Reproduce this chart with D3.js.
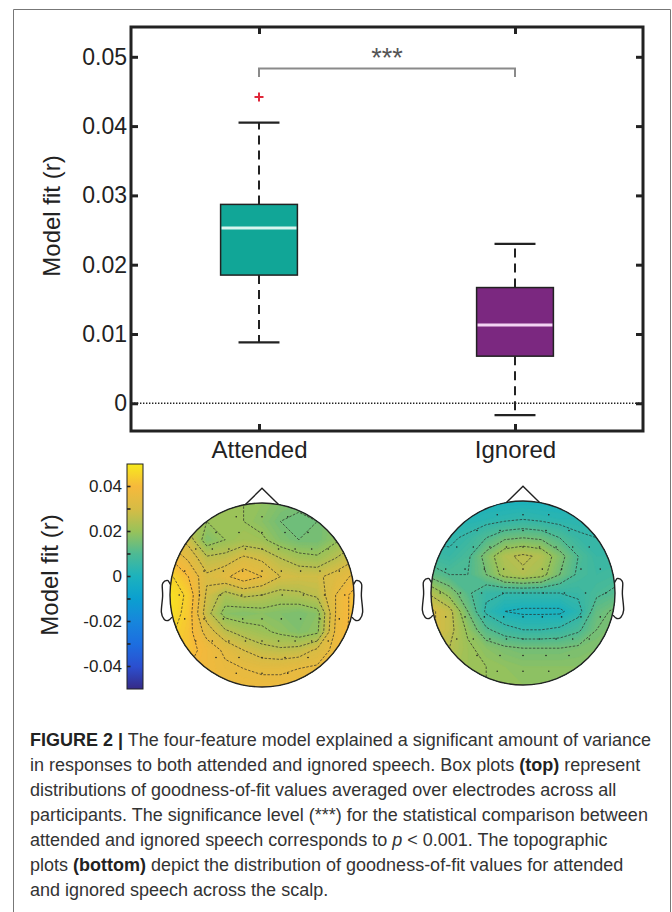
<!DOCTYPE html>
<head>
    <meta charset="utf-8">
    <title>Model fit</title>
    <script src="https://cdn.jsdelivr.net/npm/d3@7"></script>
    <style>
        body { margin: 0; background: #fff; }
        svg { display: block; font-family: "Liberation Sans", Arial, sans-serif; }
    </style>
</head>

<body>
    <div id="container"></div>
    <script>

        //-----------------------------DATA-----------------------------//
        var categories = ["Attended", "Ignored"];
        var whiskerLow = [0.0088, -0.0017];
        var quartile1 = [0.0185, 0.0068];
        var medians = [0.0253, 0.0113];
        var quartile3 = [0.0287, 0.0167];
        var whiskerHigh = [0.0405, 0.0230];
        var outliers = [[0.0442], []];
        var sigLevel = 0.0483, sigDrop = 0.0012, sigLabel = "***";
        var yTicks = [0, 0.01, 0.02, 0.03, 0.04, 0.05];
        var colorbarTicks = [-0.04, -0.02, 0, 0.02, 0.04];
        var colorbarMinor = [-0.04, -0.03, -0.02, -0.01, 0, 0.01, 0.02, 0.03, 0.04];

        // scalp maps, 11 x 11 samples, front row first, left column first
        var attendedTopo = [
            [0.021, 0.021, 0.020, 0.020, 0.020, 0.019, 0.017, 0.016, 0.017, 0.019, 0.021],
            [0.025, 0.023, 0.020, 0.020, 0.020, 0.018, 0.015, 0.014, 0.015, 0.018, 0.021],
            [0.033, 0.028, 0.017, 0.020, 0.022, 0.021, 0.017, 0.015, 0.015, 0.019, 0.023],
            [0.040, 0.034, 0.026, 0.027, 0.031, 0.029, 0.025, 0.022, 0.021, 0.025, 0.029],
            [0.046, 0.040, 0.031, 0.034, 0.038, 0.035, 0.030, 0.029, 0.029, 0.032, 0.036],
            [0.048, 0.044, 0.029, 0.023, 0.026, 0.025, 0.023, 0.024, 0.026, 0.035, 0.042],
            [0.048, 0.043, 0.027, 0.018, 0.017, 0.018, 0.017, 0.016, 0.018, 0.035, 0.042],
            [0.046, 0.042, 0.033, 0.026, 0.023, 0.021, 0.019, 0.017, 0.019, 0.036, 0.042],
            [0.044, 0.042, 0.038, 0.034, 0.030, 0.027, 0.026, 0.027, 0.031, 0.037, 0.040],
            [0.042, 0.040, 0.038, 0.036, 0.035, 0.034, 0.034, 0.035, 0.036, 0.038, 0.039],
            [0.040, 0.039, 0.038, 0.037, 0.037, 0.037, 0.037, 0.037, 0.037, 0.038, 0.039]
        ];
        var ignoredTopo = [
            [0.001, 0.001, 0.000, 0.000, 0.000, 0.000, 0.000, 0.000, 0.001, 0.001, 0.002],
            [0.003, 0.003, 0.002, 0.003, 0.004, 0.005, 0.004, 0.003, 0.003, 0.003, 0.004],
            [0.004, 0.004, 0.006, 0.010, 0.014, 0.015, 0.014, 0.010, 0.006, 0.005, 0.005],
            [0.007, 0.006, 0.009, 0.017, 0.024, 0.026, 0.024, 0.017, 0.010, 0.006, 0.006],
            [0.013, 0.010, 0.010, 0.015, 0.022, 0.024, 0.022, 0.015, 0.009, 0.007, 0.008],
            [0.024, 0.018, 0.011, 0.006, 0.005, 0.005, 0.005, 0.005, 0.006, 0.009, 0.011],
            [0.031, 0.027, 0.015, 0.004, 0.000, -0.001, -0.001, -0.001, 0.003, 0.013, 0.016],
            [0.031, 0.027, 0.019, 0.011, 0.007, 0.005, 0.005, 0.006, 0.009, 0.015, 0.017],
            [0.028, 0.025, 0.021, 0.018, 0.016, 0.015, 0.015, 0.015, 0.016, 0.017, 0.017],
            [0.025, 0.023, 0.021, 0.020, 0.019, 0.018, 0.018, 0.018, 0.018, 0.018, 0.018],
            [0.023, 0.022, 0.021, 0.020, 0.019, 0.019, 0.019, 0.019, 0.019, 0.019, 0.019]
        ];

        // electrode rows: v (front = -1) and lateral positions u
        var electrodeRows = [
            { v: -0.85, u: [-0.28, 0, 0.28] },
            { v: -0.68, u: [-0.5, -0.25, 0, 0.25, 0.5] },
            { v: -0.5, u: [-0.72, -0.54, -0.36, -0.18, 0, 0.18, 0.36, 0.54, 0.72] },
            { v: -0.26, u: [-0.84, -0.63, -0.42, -0.21, 0, 0.21, 0.42, 0.63, 0.84] },
            { v: 0, u: [-0.9, -0.68, -0.45, -0.22, 0, 0.22, 0.45, 0.68, 0.9] },
            { v: 0.26, u: [-0.84, -0.63, -0.42, -0.21, 0, 0.21, 0.42, 0.63, 0.84] },
            { v: 0.5, u: [-0.72, -0.54, -0.36, -0.18, 0, 0.18, 0.36, 0.54, 0.72] },
            { v: 0.68, u: [-0.5, -0.25, 0, 0.25, 0.5] },
            { v: 0.85, u: [-0.28, 0, 0.28] }
        ];

        // colour map stops, one every 0.01 from -0.05 to 0.05
        var mapStops = ["#352a87", "#2b4fd0", "#1c6ee0", "#1786dc", "#0b9fd0", "#1cb2bd",
            "#4dba94", "#98c25a", "#d6bc45", "#f6b93c", "#f7ea1c"];

        var captionLines = [
            [["FIGURE 2 |", "b"], [" The four-feature model explained a significant amount of variance", ""]],
            [["in responses to both attended and ignored speech. Box plots ", ""], ["(top)", "b"], [" represent", ""]],
            [["distributions of goodness-of-fit values averaged over electrodes across all", ""]],
            [["participants. The significance level (***) for the statistical comparison between", ""]],
            [["attended and ignored speech corresponds to ", ""], ["p", "i"], [" < 0.001. The topographic", ""]],
            [["plots ", ""], ["(bottom)", "b"], [" depict the distribution of goodness-of-fit values for attended", ""]],
            [["and ignored speech across the scalp.", ""]]
        ];

        //------------------------PREPARATION------------------------//
        var W = 672, H = 912;
        var plot = { left: 131, right: 643, top: 27, bottom: 431 };
        var ink = "#222";

        var svg = d3.select("#container").append("svg")
            .attr("width", W).attr("height", H);

        svg.append("rect").attr("width", W).attr("height", H).attr("fill", "#fff");

        // figure frame (open at the bottom)
        svg.append("path")
            .attr("d", "M13.5," + H + "V9.5H670.5V" + H)
            .attr("fill", "none").attr("stroke", "#777").attr("stroke-width", 1);

        var xScale = d3.scaleLinear().domain([0.5, 2.5]).range([plot.left, plot.right]);
        var yScale = d3.scaleLinear().domain([-0.004, 0.0543]).range([plot.bottom, plot.top]);
        var color = d3.scaleLinear()
            .domain(mapStops.map(function (d, i) { return -0.05 + i * 0.01; }))
            .range(mapStops).clamp(true);

        //-----------------------------AXES-----------------------------//
        var g = svg.append("g");

        g.append("line")
            .attr("x1", plot.left).attr("x2", plot.right)
            .attr("y1", yScale(0)).attr("y2", yScale(0))
            .attr("stroke", ink).attr("stroke-width", 1.4).attr("stroke-dasharray", "1.4,1.6");

        var yLeft = g.append("g")
            .attr("transform", "translate(" + plot.left + ",0)")
            .call(d3.axisLeft(yScale).tickValues(yTicks).tickFormat(d3.format("")).tickSizeInner(-7).tickSizeOuter(0).tickPadding(4));
        var yRight = g.append("g")
            .attr("transform", "translate(" + plot.right + ",0)")
            .call(d3.axisRight(yScale).tickValues(yTicks).tickFormat("").tickSizeInner(-7).tickSizeOuter(0));
        var xBottom = g.append("g")
            .attr("transform", "translate(0," + plot.bottom + ")")
            .call(d3.axisBottom(xScale).tickValues([1, 2]).tickFormat(function (d) { return categories[d - 1]; })
                .tickSizeInner(-7).tickSizeOuter(0).tickPadding(10));
        var xTop = g.append("g")
            .attr("transform", "translate(0," + plot.top + ")")
            .call(d3.axisTop(xScale).tickValues([1, 2]).tickFormat("").tickSizeInner(-7).tickSizeOuter(0));

        [yLeft, yRight, xBottom, xTop].forEach(function (a) {
            a.select(".domain").remove();
            a.selectAll(".tick line").attr("stroke", ink).attr("stroke-width", 3);
            a.selectAll(".tick text").attr("fill", ink).style("font-size", "23px")
                .style("font-family", "'Liberation Sans', Arial, sans-serif");
        });
        xBottom.selectAll(".tick text").style("font-size", "24px");

        g.append("rect")
            .attr("x", plot.left).attr("y", plot.top)
            .attr("width", plot.right - plot.left).attr("height", plot.bottom - plot.top)
            .attr("fill", "none").attr("stroke", ink).attr("stroke-width", 3);

        svg.append("text")
            .attr("transform", "translate(60,216) rotate(-90)")
            .attr("text-anchor", "middle").attr("fill", ink)
            .style("font-size", "24px")
            .text("Model fit (r)");

        //----------------------------BOXES-----------------------------//
        var boxFill = ["#11a697", "#7b2880"];
        var medianColor = ["#d9f5f0", "#f3d3f3"];
        var halfBox = 0.15, halfCap = 0.08;

        var boxes = g.selectAll(".box")
            .data(categories)
            .enter().append("g")
            .attr("class", "box");

        boxes.append("line")
            .attr("x1", function (d, i) { return xScale(i + 1); })
            .attr("x2", function (d, i) { return xScale(i + 1); })
            .attr("y1", function (d, i) { return yScale(quartile3[i]); })
            .attr("y2", function (d, i) { return yScale(whiskerHigh[i]); })
            .attr("stroke", ink).attr("stroke-width", 2).attr("stroke-dasharray", "9,6");
        boxes.append("line")
            .attr("x1", function (d, i) { return xScale(i + 1); })
            .attr("x2", function (d, i) { return xScale(i + 1); })
            .attr("y1", function (d, i) { return yScale(quartile1[i]); })
            .attr("y2", function (d, i) { return yScale(whiskerLow[i]); })
            .attr("stroke", ink).attr("stroke-width", 2).attr("stroke-dasharray", "9,6");

        [whiskerHigh, whiskerLow].forEach(function (arr) {
            boxes.append("line")
                .attr("x1", function (d, i) { return xScale(i + 1 - halfCap); })
                .attr("x2", function (d, i) { return xScale(i + 1 + halfCap); })
                .attr("y1", function (d, i) { return yScale(arr[i]); })
                .attr("y2", function (d, i) { return yScale(arr[i]); })
                .attr("stroke", ink).attr("stroke-width", 2.2);
        });

        boxes.append("rect")
            .attr("x", function (d, i) { return xScale(i + 1 - halfBox); })
            .attr("width", function (d, i) { return xScale(i + 1 + halfBox) - xScale(i + 1 - halfBox); })
            .attr("y", function (d, i) { return yScale(quartile3[i]); })
            .attr("height", function (d, i) { return yScale(quartile1[i]) - yScale(quartile3[i]); })
            .attr("fill", function (d, i) { return boxFill[i]; })
            .attr("stroke", ink).attr("stroke-width", 1.5);

        boxes.append("line")
            .attr("x1", function (d, i) { return xScale(i + 1 - halfBox) + 1; })
            .attr("x2", function (d, i) { return xScale(i + 1 + halfBox) - 1; })
            .attr("y1", function (d, i) { return yScale(medians[i]); })
            .attr("y2", function (d, i) { return yScale(medians[i]); })
            .attr("stroke", function (d, i) { return medianColor[i]; }).attr("stroke-width", 3);

        // outliers
        categories.forEach(function (c, i) {
            outliers[i].forEach(function (v) {
                var px = xScale(i + 1), py = yScale(v);
                g.append("path")
                    .attr("d", "M" + (px - 4.5) + "," + py + "H" + (px + 4.5) + "M" + px + "," + (py - 4.5) + "V" + (py + 4.5))
                    .attr("stroke", "#e0283a").attr("stroke-width", 2);
            });
        });

        // significance bracket
        g.append("path")
            .attr("d", "M" + xScale(1) + "," + yScale(sigLevel - sigDrop) + "V" + yScale(sigLevel) +
                "H" + xScale(2) + "V" + yScale(sigLevel - sigDrop))
            .attr("fill", "none").attr("stroke", "#8a8a8a").attr("stroke-width", 2);
        g.append("text")
            .attr("x", (xScale(1) + xScale(2)) / 2).attr("y", yScale(sigLevel) - 2)
            .attr("text-anchor", "middle").attr("fill", "#555")
            .style("font-size", "27px")
            .text(sigLabel);

        //---------------------------COLORBAR---------------------------//
        var cb = { x: 127, w: 16, top: 464, bottom: 689 };
        var cbScale = d3.scaleLinear().domain([-0.05, 0.05]).range([cb.bottom, cb.top]);

        var grad = svg.append("defs").append("linearGradient")
            .attr("id", "cbgrad").attr("x1", 0).attr("y1", 1).attr("x2", 0).attr("y2", 0);
        grad.selectAll("stop")
            .data(d3.range(0, 41))
            .enter().append("stop")
            .attr("offset", function (d) { return d / 40; })
            .attr("stop-color", function (d) { return color(cbScale.invert(cb.bottom - d / 40 * (cb.bottom - cb.top))); });

        svg.append("rect")
            .attr("x", cb.x).attr("y", cb.top).attr("width", cb.w).attr("height", cb.bottom - cb.top)
            .attr("fill", "url(#cbgrad)").attr("stroke", ink).attr("stroke-width", 1);

        svg.append("g").selectAll("line")
            .data(colorbarMinor)
            .join("line")
            .attr("x1", cb.x).attr("x2", cb.x + 3.5)
            .attr("y1", function (d) { return cbScale(d); }).attr("y2", function (d) { return cbScale(d); })
            .attr("stroke", ink).attr("stroke-width", 1.6);

        svg.append("g").selectAll("text")
            .data(colorbarTicks)
            .join("text")
            .attr("x", cb.x - 5).attr("y", function (d) { return cbScale(d); })
            .attr("dy", "0.35em").attr("text-anchor", "end").attr("fill", ink)
            .style("font-size", "17px")
            .text(function (d) { return d === 0 ? "0" : d.toFixed(2); });

        svg.append("text")
            .attr("transform", "translate(58,575) rotate(-90)")
            .attr("text-anchor", "middle").attr("fill", ink)
            .style("font-size", "24px")
            .text("Model fit (r)");

        //----------------------------TOPOS-----------------------------//
        var earX = [0.994, 1.02, 1.036, 1.06, 1.084, 1.08, 1.094, 1.064, 1.02, 0.978];
        var earV = [-0.111, -0.155, -0.157, -0.149, -0.111, 0.011, 0.186, 0.263, 0.277, 0.240];

        function drawTopo(grid, cx, cy, r, id) {
            var n = grid.length;
            var values = [].concat.apply([], grid);
            var ux = d3.scaleLinear().domain([-1, 1]).range([cx - r, cx + r]);
            var uy = d3.scaleLinear().domain([-1, 1]).range([cy - r, cy + r]);
            var gx = d3.scaleLinear().domain([0.5, n - 0.5]).range([ux(-1), ux(1)]);
            var gy = d3.scaleLinear().domain([0.5, n - 0.5]).range([uy(-1), uy(1)]);
            var path = d3.geoPath(d3.geoTransform({
                point: function (x, y) { this.stream.point(gx(x), gy(y)); }
            }));

            svg.append("clipPath").attr("id", id)
                .append("circle").attr("cx", cx).attr("cy", cy).attr("r", r);

            var t = svg.append("g").attr("clip-path", "url(#" + id + ")");

            var fillLevels = d3.range(-12, 52).map(function (k) { return k / 1000; });
            t.selectAll("path.band")
                .data(d3.contours().size([n, n]).thresholds(fillLevels)(values))
                .join("path")
                .attr("class", "band")
                .attr("d", path)
                .attr("fill", function (d) { return color(d.value + 0.0005); })
                .attr("stroke", function (d) { return color(d.value + 0.0005); })
                .attr("stroke-width", 0.5);

            var lineLevels = d3.range(-1, 10).map(function (k) { return k * 0.005; });
            t.selectAll("path.iso")
                .data(d3.contours().size([n, n]).thresholds(lineLevels)(values))
                .join("path")
                .attr("class", "iso")
                .attr("d", path)
                .attr("fill", "none").attr("stroke", "#2a2a2a")
                .attr("stroke-width", 0.7).attr("stroke-dasharray", "2.5,1.5");

            electrodeRows.forEach(function (row) {
                t.selectAll(null)
                    .data(row.u)
                    .enter().append("circle")
                    .attr("cx", function (u) { return ux(u); })
                    .attr("cy", uy(row.v))
                    .attr("r", 0.8).attr("fill", "#222");
            });

            var headLine = d3.line().curve(d3.curveCardinal)
                .x(function (d) { return ux(d[0]); }).y(function (d) { return uy(d[1]); });
            var right = earX.map(function (x, i) { return [x, earV[i]]; });
            var left = earX.map(function (x, i) { return [-x, earV[i]]; });

            var o = svg.append("g").attr("fill", "none").attr("stroke", "#222").attr("stroke-width", 1.4);
            o.append("path").attr("d", headLine(right));
            o.append("path").attr("d", headLine(left));
            o.append("path").attr("d", d3.line().x(function (d) { return ux(d[0]); }).y(function (d) { return uy(d[1]); })
                ([[-0.18, -0.984], [0, -1.16], [0.18, -0.984]]));
            o.append("circle").attr("cx", cx).attr("cy", cy).attr("r", r);
        }

        drawTopo(attendedTopo, 262, 595, 92, "clipA");
        drawTopo(ignoredTopo, 523, 593, 92, "clipB");

        //---------------------------CAPTION----------------------------//
        var cap = svg.append("g").attr("fill", "#333")
            .style("font-size", "18.5px");

        var capText = cap.selectAll("text")
            .data(captionLines)
            .join("text")
            .attr("x", 0)
            .attr("y", function (d, i) { return 746 + i * 25; });

        capText.selectAll("tspan")
            .data(function (d) { return d; })
            .join("tspan")
            .attr("font-weight", function (d) { return d[1] === "b" ? "bold" : null; })
            .attr("font-style", function (d) { return d[1] === "i" ? "italic" : null; })
            .attr("fill", function (d) { return d[1] === "b" ? "#222" : null; })
            .text(function (d) { return d[0]; });

        var firstLen = capText.node().getComputedTextLength();
        cap.attr("transform", "translate(30,0) scale(" + (621 / firstLen) + ",1)");

    </script>
</body>
